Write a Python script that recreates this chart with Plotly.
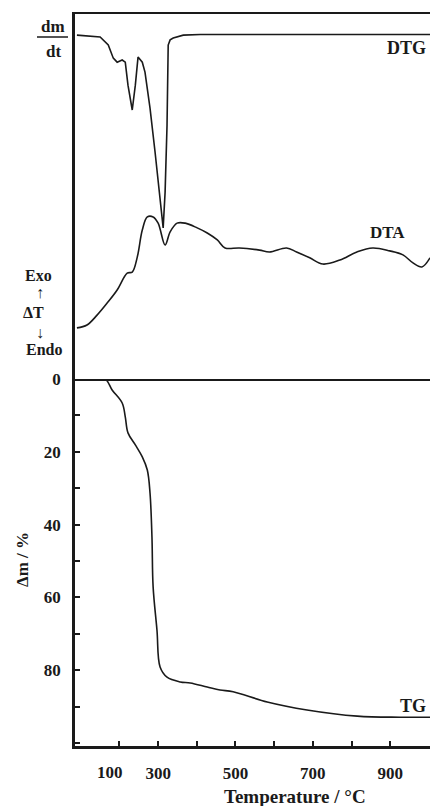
import plotly.graph_objects as go

# ---------------- data ----------------
TEMP_TG = [90, 124, 163, 181, 207, 215, 222, 241, 259, 272, 279, 284, 287, 297, 305,
           323, 357, 383, 427, 460, 494, 582, 685, 815, 926, 1003]
TG_LOSS = [0, 0, 0, 3.0, 6.6, 10.4, 14.8, 18.1, 21.4, 25.0, 31.3, 43.4, 57.1, 69.0, 79.1,
           81.9, 83.2, 83.5, 84.6, 85.4, 85.9, 88.7, 90.9, 92.6, 92.9, 92.9]

TEMP_DTG = [90, 150, 171, 184, 194, 207, 215, 222, 233, 241, 248, 259, 266, 279, 292,
            305, 313, 318, 323, 326, 331, 339, 365, 409, 1003]
DTG = [94.2, 93.7, 91.5, 87.9, 86.8, 87.4, 86.8, 80.5, 73.7, 80.5, 88.2, 86.8, 84.1, 74.2, 62.2,
       50.4, 41.4, 51.2, 69.6, 91.5, 92.9, 93.4, 94.2, 94.4, 94.4]

TEMP_DTA = [90, 116, 142, 168, 194, 220, 233, 246, 259, 272, 287, 300, 318, 331, 349, 370,
            401, 427, 453, 473, 510, 562, 588, 632, 658, 692, 726, 770, 814, 855, 899, 933,
            959, 982, 1003]
DTA = [14.0, 14.8, 17.5, 20.8, 24.4, 29.0, 29.3, 33.4, 40.8, 44.4, 44.4, 42.7, 36.7, 40.3,
       42.7, 42.7, 41.4, 40.0, 38.1, 35.9, 35.9, 35.3, 34.8, 35.9, 34.8, 33.2, 31.5, 32.6,
       34.8, 35.9, 35.1, 34.0, 31.8, 30.7, 33.2]

X_TICKS = [200, 300, 400, 500, 600, 700, 800, 900]
X_TICK_TEXT = ["", "300", "", "500", "", "700", "", "900"]
Y_TICKS = [0, 20, 40, 60, 80]
Y_TICK_TEXT = ["0", "20", "40", "60", "80"]

# ---------------- layout helpers ----------------
W, H = 430, 806
L, R, T, B = 75, 0, 14, 60
PW, PH = W - L - R, H - T - B
SPLIT = 367 / PH  # lower panel share

def px(x):
    return (x - L) / PW

def py(y):
    return (H - B - y) / PH

FONT = "Liberation Serif"
INK = "#1a1a1a"
tfont = dict(family=FONT, size=17, color=INK, weight="bold")

fig = go.Figure()
line = dict(color=INK, width=1.6)
fig.add_trace(go.Scatter(x=TEMP_TG, y=TG_LOSS, mode="lines", line=line,
                         xaxis="x", yaxis="y", name="TG", line_shape="spline"))
fig.add_trace(go.Scatter(x=TEMP_DTG, y=DTG, mode="lines", line=line,
                         xaxis="x2", yaxis="y2", name="DTG"))
fig.add_trace(go.Scatter(x=TEMP_DTA, y=DTA, mode="lines", line=line,
                         xaxis="x2", yaxis="y2", name="DTA", line_shape="spline"))

XR = [85, 1003]
fig.update_layout(
    width=W, height=H, margin=dict(l=L, r=R, t=T, b=B),
    paper_bgcolor="white", plot_bgcolor="white", showlegend=False,
    xaxis=dict(domain=[0, 1], range=XR, anchor="y", showline=True, linewidth=2.5,
               linecolor=INK, ticks="inside", ticklen=5, tickwidth=2, tickcolor=INK,
               tickvals=X_TICKS, ticktext=X_TICK_TEXT, tickfont=tfont,
               ticklabelstandoff=10, showgrid=False, zeroline=False),
    xaxis2=dict(domain=[0, 1], range=XR, anchor="y2", matches="x", showline=True,
                mirror=True, linewidth=2.2, linecolor=INK, ticks="",
                showticklabels=False, showgrid=False, zeroline=False),
    yaxis=dict(domain=[0, SPLIT], range=[100.8, 0], anchor="x", showline=True,
               linewidth=2.5, linecolor=INK, ticks="inside", ticklen=5, tickwidth=2,
               tickcolor=INK, tickvals=Y_TICKS, ticktext=Y_TICK_TEXT, tickfont=tfont,
               ticklabelstandoff=8, showgrid=False, zeroline=False,
               minor=dict(dtick=10, tick0=0, ticks="inside", ticklen=5, tickwidth=2,
                          tickcolor=INK)),
    yaxis2=dict(domain=[SPLIT, 1], range=[0, 100], anchor="x2", showline=True,
                linewidth=2.5, linecolor=INK, ticks="", showticklabels=False,
                showgrid=False, zeroline=False),
)

def ann(text, x, y, size=17, angle=0):
    fig.add_annotation(text=text, x=px(x), y=py(y), xref="paper", yref="paper",
                       showarrow=False, textangle=angle, xanchor="center",
                       yanchor="middle",
                       font=dict(family=FONT, size=size, color=INK, weight="bold"))

ann("dm", 53, 27)
ann("dt", 53, 51)
fig.add_shape(type="line", xref="paper", yref="paper", x0=px(37), x1=px(68),
              y0=py(37), y1=py(37), line=dict(color=INK, width=1.5))
ann("Exo", 38, 275, size=16)
ann("↑", 40, 292, size=16)
ann("ΔT", 33, 312, size=16)
ann("↓", 40, 332, size=16)
ann("Endo", 44, 350, size=16)
ann("DTG", 406, 48, size=18)
ann("DTA", 387, 232)
ann("TG", 413, 706, size=18)
ann("100", 110, 772)
ann("Temperature / °C", 295, 796, size=19)
ann("Δm / %", 22, 560, size=17, angle=-90)

fig.write_html("out.html", config={"displayModeBar": False},
               post_script="document.body.style.margin='0';"
                           "document.body.style.overflow='hidden';")
